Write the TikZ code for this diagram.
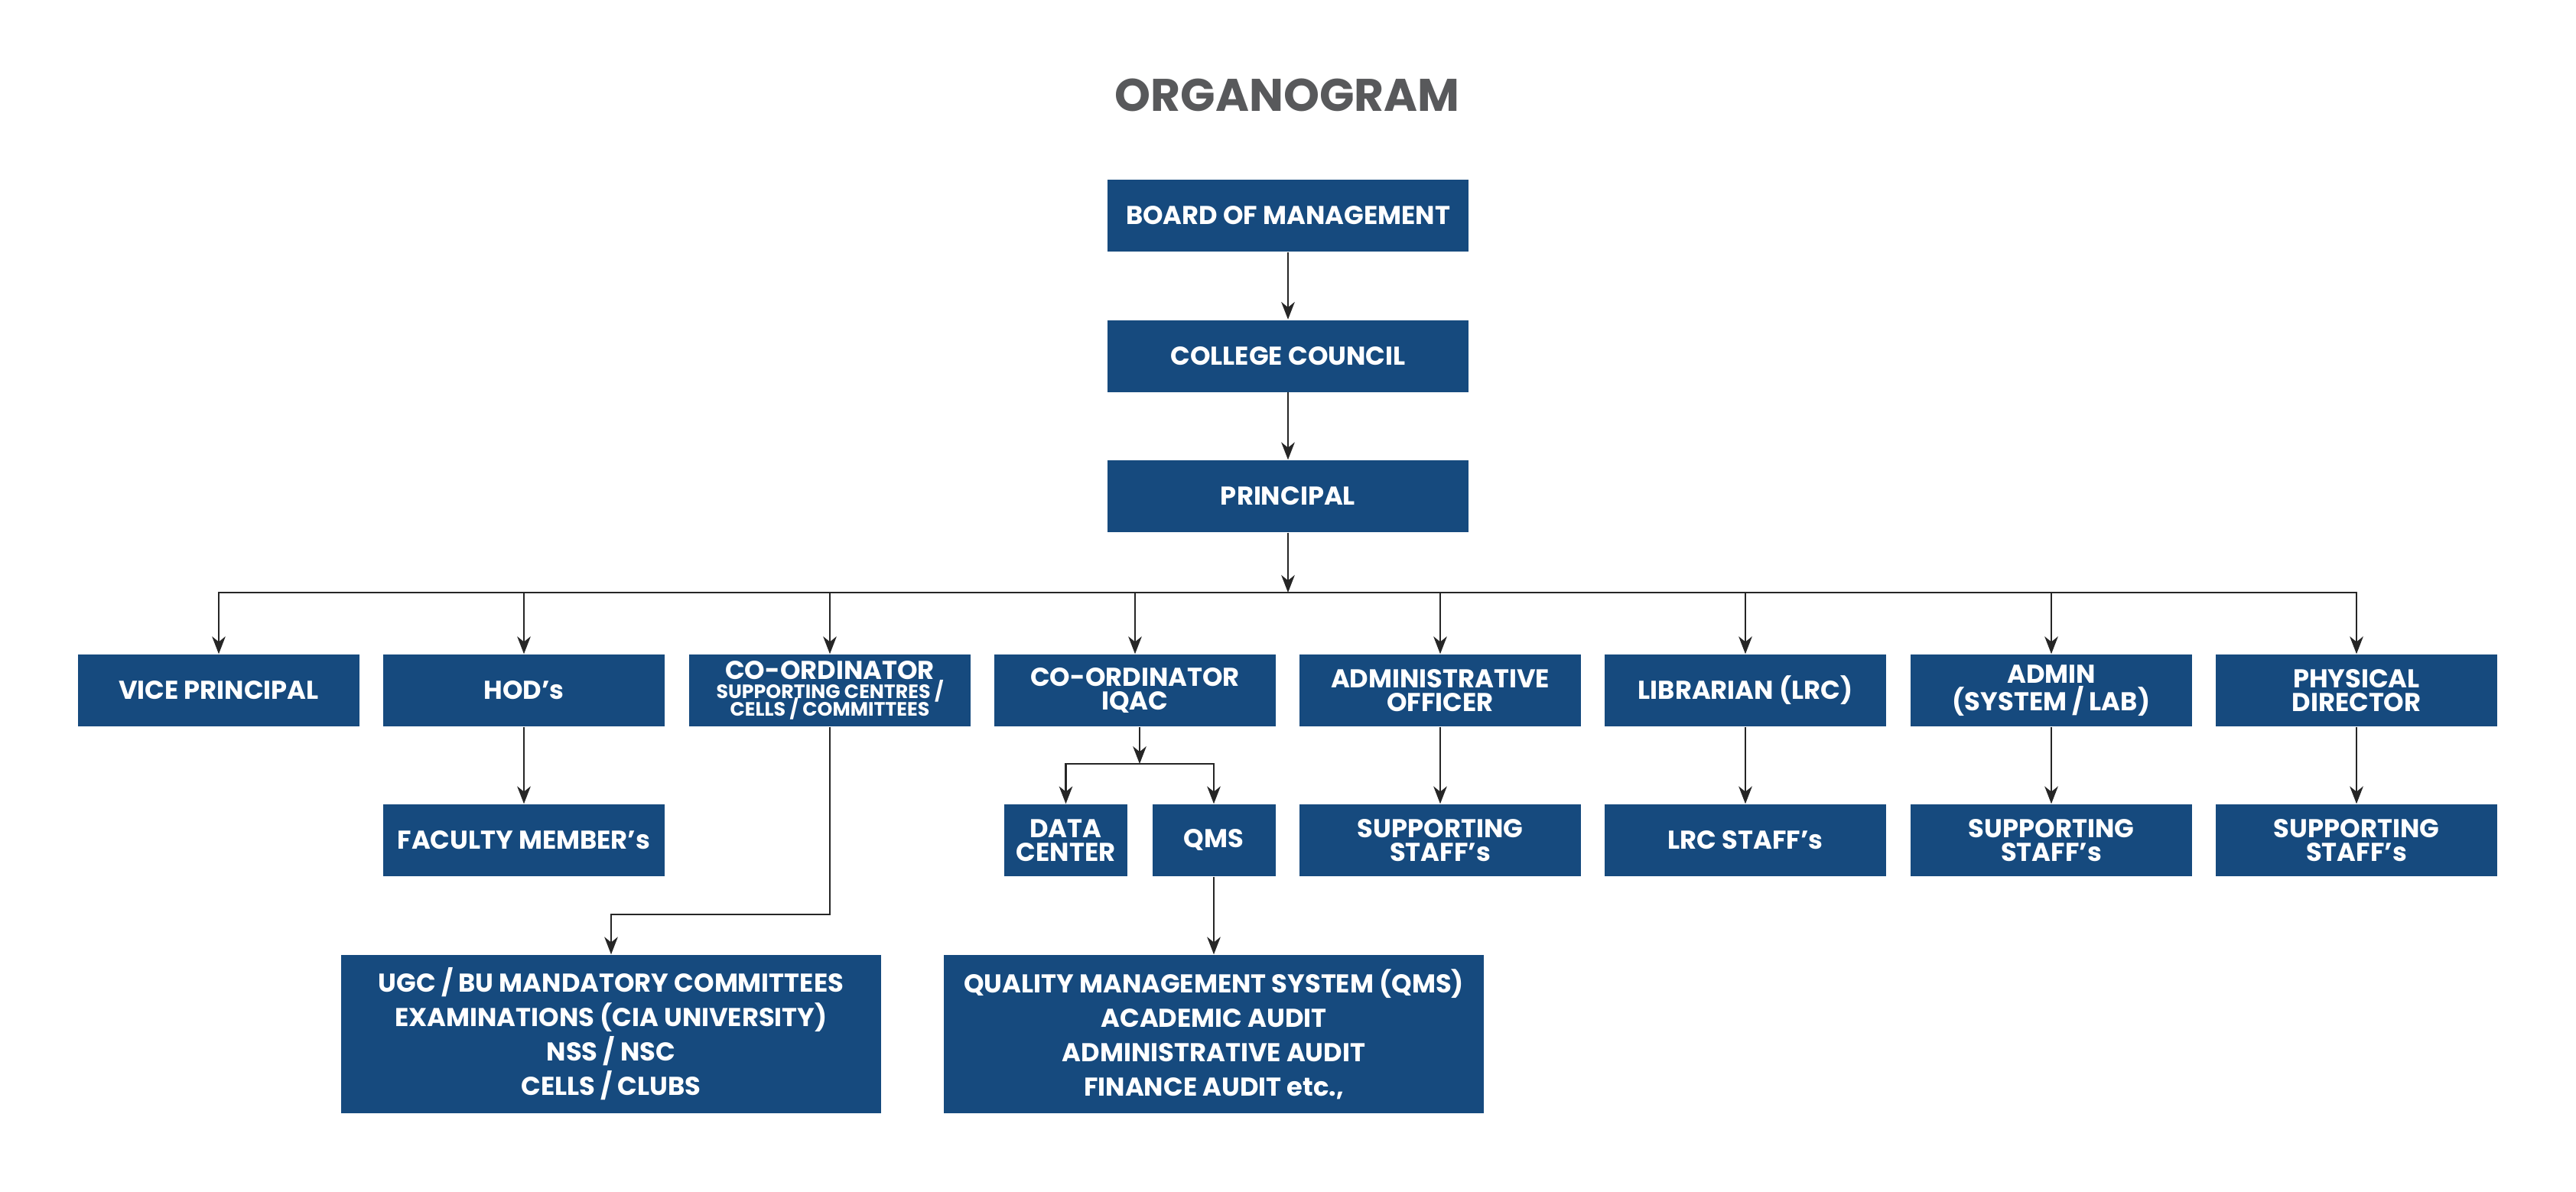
\documentclass[tikz,border=0pt]{standalone}
\usepackage{fontspec}
\setmainfont{Poppins}
\usetikzlibrary{arrows.meta}
\definecolor{orgblue}{RGB}{22,74,126}
\definecolor{orggray}{RGB}{88,89,91}
\newcommand\smalltxt[1]{{\fontsize{7.2}{7}\selectfont #1}}

\begin{document}
\begin{tikzpicture}[box/.style = {fill=orgblue, text=white, font=\bfseries\fontsize{9.6}{8.8}\selectfont, align=center, inner sep=0pt, minimum width=3.68cm, minimum height=0.94cm},
  wide/.style = {box, minimum width=4.72cm},
  narrow/.style = {box, minimum width=1.61cm},
  big/.style = {box, font=\bfseries\fontsize{9.6}{12.8}\selectfont, minimum width=7.06cm, minimum height=2.07cm},
  arr/.style = {-{Stealth[length=6.5pt, width=5pt, inset=2pt]}, line width=0.65pt, draw=black!85}]
\useasboundingbox (0,0) rectangle (33.68,-15.59);
\node[text=orggray, font=\bfseries\fontsize{17}{20}\selectfont] (title) at (16.83,-1.24) {ORGANOGRAM};
\node[wide] (bom) at (16.84,-2.82) {BOARD OF MANAGEMENT};
\node[wide] (council) at (16.84,-4.655) {COLLEGE COUNCIL};
\node[wide] (principal) at (16.84,-6.49) {PRINCIPAL};
\coordinate (bus) at (16.84,-7.75);
\node[box] (vp) at (2.86,-9.03) {VICE PRINCIPAL};
\node[box] (hod) at (6.85,-9.03) {HOD’s};
\node[box] (coord) at (10.85,-9.03) {CO-ORDINATOR\\[-1.6pt]\smalltxt{SUPPORTING CENTRES /}\\[-2.2pt]\smalltxt{CELLS / COMMITTEES}};
\node[box] (iqac) at (14.84,-9.03) {CO-ORDINATOR\\IQAC};
\node[box] (ao) at (18.83,-9.03) {ADMINISTRATIVE\\OFFICER};
\node[box] (lib) at (22.82,-9.03) {LIBRARIAN (LRC)};
\node[box] (admin) at (26.82,-9.03) {ADMIN\\(SYSTEM / LAB)};
\node[box] (phys) at (30.81,-9.03) {PHYSICAL\\DIRECTOR};
\node[box] (faculty) at (6.85,-10.99) {FACULTY MEMBER’s};
\node[narrow] (data) at (13.935,-10.99) {DATA\\CENTER};
\node[narrow] (qms) at (15.87,-10.99) {QMS};
\coordinate (split) at (14.90,-9.99);
\node[box] (aostaff) at (18.83,-10.99) {SUPPORTING\\STAFF’s};
\node[box] (lrcstaff) at (22.82,-10.99) {LRC STAFF’s};
\node[box] (adminstaff) at (26.82,-10.99) {SUPPORTING\\STAFF’s};
\node[box] (physstaff) at (30.81,-10.99) {SUPPORTING\\STAFF’s};
\node[big] (ugc) at (7.99,-13.525) {UGC / BU MANDATORY COMMITTEES\\EXAMINATIONS (CIA UNIVERSITY)\\NSS / NSC\\CELLS / CLUBS};
\node[big] (qmsfull) at (15.87,-13.525) {QUALITY MANAGEMENT SYSTEM (QMS)\\ACADEMIC AUDIT\\ADMINISTRATIVE AUDIT\\FINANCE AUDIT etc.,};
\draw[arr] (bom) -- (council);
\draw[arr] (council) -- (principal);
\draw[arr] (principal) -- (bus);
\foreach \n in {vp,hod,coord,iqac,ao,lib,admin,phys}
  \draw[arr] (bus) -| (\n);
\draw[arr] (hod) -- (faculty);
\draw[arr] (coord) |- ([yshift=5.2mm]ugc.north) -- (ugc);
\draw[arr] (iqac.south -| split) -- (split);
\draw[arr] (split) -| (data);
\draw[arr] (split) -| (qms);
\draw[arr] (qms) -- (qmsfull);
\draw[arr] (ao) -- (aostaff);
\draw[arr] (lib) -- (lrcstaff);
\draw[arr] (admin) -- (adminstaff);
\draw[arr] (phys) -- (physstaff);
\end{tikzpicture}
\end{document}
